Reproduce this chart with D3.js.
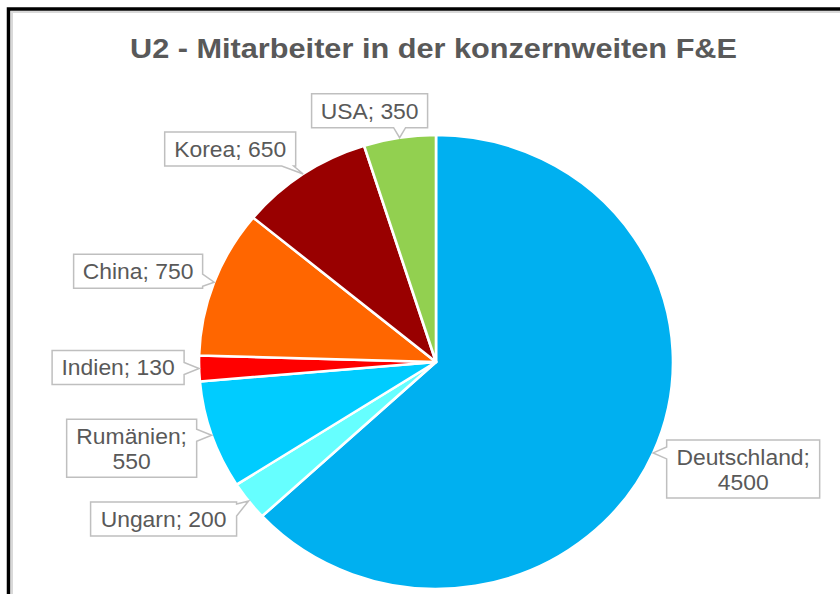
<!DOCTYPE html>
<html>
<head>
<meta charset="utf-8">
<script src="https://cdn.jsdelivr.net/npm/d3@7"></script>
<style>
  body { margin: 0; background: #fff; }
  svg text { font-family: "Liberation Sans", Arial, sans-serif; }
</style>
</head>
<body>
<div id="chart"></div>
<script>
// data
const countries = ['Deutschland', 'Ungarn', 'Rumänien', 'Indien', 'China', 'Korea', 'USA'];
const staff = [4500, 200, 550, 130, 750, 650, 350];
const colors = ['#00B0F0', '#66FFFF', '#00CCFF', '#FF0000', '#FF6600', '#990000', '#92D050'];
const labelLines = [['Deutschland;', '4500'], ['Ungarn; 200'], ['Rumänien;', '550'], ['Indien; 130'],
  ['China; 750'], ['Korea; 650'], ['USA; 350']];
const title = 'U2 - Mitarbeiter in der konzernweiten F&E';

// layout
var width = 840, height = 594;
var cx = 436, cy = 362;
var rx = 237, ry = 227;
// box centre relative to pointer tip, and box width
var labelOffset = [[90, 16], [-85, 18], [-80, 13], [-81, -1], [-76, -11], [-73, -25], [-30, -27]];
var boxW = [153, 146, 130, 132, 129, 131, 116];

var svg = d3.select('#chart').append('svg')
  .attr('width', width)
  .attr('height', height);

// frame
svg.append('rect').attr('x', 12).attr('y', 12).attr('width', 840).attr('height', 600)
  .attr('fill', 'none').attr('stroke', '#D9D9D9').attr('stroke-width', 2);
svg.append('rect').attr('x', 8.5).attr('y', 9).attr('width', 840).attr('height', 600)
  .attr('fill', 'none').attr('stroke', '#000').attr('stroke-width', 3.5);

svg.append('text')
  .attr('x', 130).attr('y', 58)
  .attr('textLength', 607).attr('lengthAdjust', 'spacingAndGlyphs')
  .style('font-size', '28px').style('font-weight', 'bold')
  .attr('fill', '#595959')
  .text(title);

var data = countries.map((c, i) => ({name: c, value: staff[i], i: i}));
var pie = d3.pie().sort(null).value(d => d.value);
var arcs = pie(data);
var arc = d3.arc().innerRadius(0).outerRadius(ry);

// pie, stretched a bit horizontally like the picture
var g = svg.append('g')
  .attr('transform', 'translate(' + cx + ',' + cy + ') scale(' + (rx / ry) + ',1)');

g.selectAll('path.slice')
  .data(arcs)
  .enter().append('path')
  .attr('class', 'slice')
  .attr('d', arc)
  .attr('fill', d => colors[d.data.i])
  .attr('stroke', '#fff')
  .attr('stroke-width', 2.5)
  .attr('stroke-linejoin', 'round');

// callout path: rectangle with a wedge pointing at the tip
function callout(x0, y0, x1, y1, tx, ty) {
  var hw = 6;
  var outR = tx - x1, outL = x0 - tx, outB = ty - y1, outT = y0 - ty;
  var side = 'bottom', best = -1e9;
  [['right', outR], ['left', outL], ['bottom', outB], ['top', outT]].forEach(s => {
    if (s[1] > best) { best = s[1]; side = s[0]; }
  });
  var clamp = (v, a, b) => Math.max(a, Math.min(b, v));
  var p = d3.path();
  p.moveTo(x0, y0);
  if (side == 'top') {
    var m = clamp(tx, x0 + hw + 2, x1 - hw - 2);
    p.lineTo(m - hw, y0); p.lineTo(tx, ty); p.lineTo(m + hw, y0);
  }
  p.lineTo(x1, y0);
  if (side == 'right') {
    var m = clamp(ty, y0 + hw + 2, y1 - hw - 2);
    p.lineTo(x1, m - hw); p.lineTo(tx, ty); p.lineTo(x1, m + hw);
  }
  p.lineTo(x1, y1);
  if (side == 'bottom') {
    var m = clamp(tx, x0 + hw + 2, x1 - hw - 2);
    p.lineTo(m + hw, y1); p.lineTo(tx, ty); p.lineTo(m - hw, y1);
  }
  p.lineTo(x0, y1);
  if (side == 'left') {
    var m = clamp(ty, y0 + hw + 2, y1 - hw - 2);
    p.lineTo(x0, m + hw); p.lineTo(tx, ty); p.lineTo(x0, m - hw);
  }
  p.closePath();
  return p.toString();
}

var labels = svg.append('g');
arcs.forEach(function(d) {
  var i = d.data.i;
  var a = (d.startAngle + d.endAngle) / 2;
  var tx = cx + rx * Math.sin(a);
  var ty = cy - ry * Math.cos(a);
  var lines = labelLines[i];
  var bx = tx + labelOffset[i][0], by = ty + labelOffset[i][1];
  var bw = boxW[i], bh = lines.length == 1 ? 34 : 58;
  var x0 = bx - bw / 2, y0 = by - bh / 2;
  labels.append('path')
    .attr('d', callout(x0, y0, x0 + bw, y0 + bh, tx, ty))
    .attr('fill', '#fff')
    .attr('stroke', '#BFBFBF')
    .attr('stroke-width', 1.5);
  var t = labels.append('text')
    .attr('text-anchor', 'middle')
    .attr('fill', '#595959')
    .attr('transform', 'translate(' + bx + ',0) scale(1.04,1)')
    .style('font-size', '22px');
  lines.forEach(function(l, k) {
    t.append('tspan')
      .attr('x', 0)
      .attr('y', y0 + 25 + k * 25)
      .text(l);
  });
});
</script>
</body>
</html>
